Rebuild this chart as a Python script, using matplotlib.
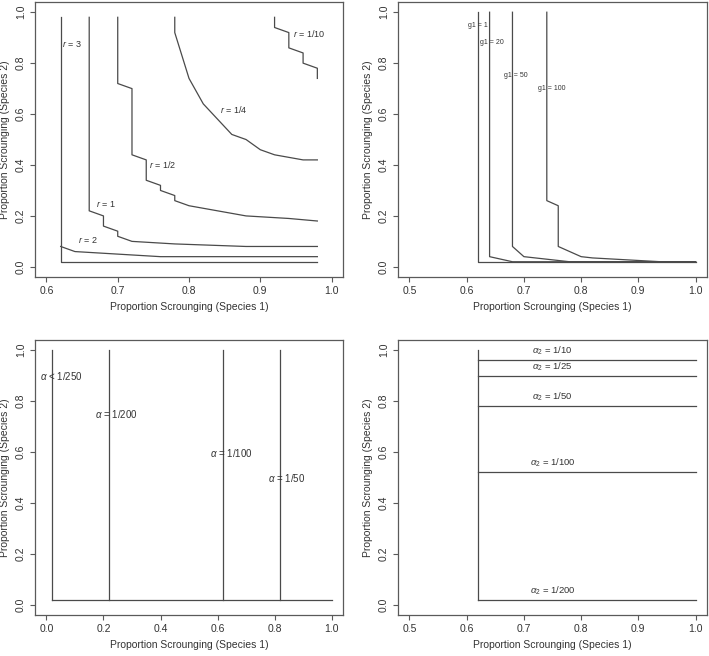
import matplotlib
matplotlib.use("Agg")
import matplotlib.pyplot as plt

plt.rcParams['font.family'] = ['Liberation Sans', 'DejaVu Sans']
plt.rcParams['mathtext.fontset'] = 'custom'
plt.rcParams['mathtext.rm'] = 'Liberation Sans'
plt.rcParams['mathtext.it'] = 'Liberation Sans:italic'

# panel 1 : isoclines for different r
r3_x = [0.62, 0.62, 0.98]
r3_y = [0.98, 0.02, 0.02]
r2_x = [0.62, 0.64, 0.70, 0.76, 0.98]
r2_y = [0.08, 0.06, 0.05, 0.04, 0.04]
r1_x = [0.66, 0.66, 0.68, 0.68, 0.70, 0.70, 0.72, 0.78, 0.88, 0.98]
r1_y = [0.98, 0.22, 0.20, 0.16, 0.14, 0.12, 0.10, 0.09, 0.08, 0.08]
rhalf_x = [0.70, 0.70, 0.72, 0.72, 0.74, 0.74, 0.76, 0.76, 0.78, 0.78, 0.80, 0.84, 0.88, 0.94, 0.98]
rhalf_y = [0.98, 0.72, 0.70, 0.44, 0.42, 0.34, 0.32, 0.30, 0.28, 0.26, 0.24, 0.22, 0.20, 0.19, 0.18]
rquart_x = [0.78, 0.78, 0.80, 0.82, 0.84, 0.86, 0.88, 0.90, 0.92, 0.96, 0.98]
rquart_y = [0.98, 0.92, 0.74, 0.64, 0.58, 0.52, 0.50, 0.46, 0.44, 0.42, 0.42]
rtenth_x = [0.92, 0.92, 0.94, 0.94, 0.96, 0.96, 0.98, 0.98]
rtenth_y = [0.98, 0.94, 0.92, 0.86, 0.84, 0.80, 0.78, 0.74]
r_labels = ['$r$ = 3', '$r$ = 2', '$r$ = 1', '$r$ = 1/2', '$r$ = 1/4', '$r$ = 1/10']
r_lab_x = [0.636, 0.658, 0.683, 0.763, 0.863, 0.969]
r_lab_y = [0.877, 0.104, 0.248, 0.40, 0.619, 0.917]

# panel 2 : isoclines for different g1
g1_x = [0.62, 0.62, 1.00]
g1_y = [1.00, 0.02, 0.02]
g20_x = [0.64, 0.64, 0.68, 1.00]
g20_y = [1.00, 0.04, 0.02, 0.02]
g50_x = [0.68, 0.68, 0.70, 0.72, 0.78, 1.00]
g50_y = [1.00, 0.08, 0.04, 0.035, 0.02, 0.02]
g100_x = [0.74, 0.74, 0.76, 0.76, 0.80, 0.82, 0.94, 1.00]
g100_y = [1.00, 0.26, 0.24, 0.08, 0.04, 0.035, 0.02, 0.02]
g_labels = ['g1 = 1', 'g1 = 20', 'g1 = 50', 'g1 = 100']
g_lab_x = [0.6195, 0.6445, 0.685, 0.748]
g_lab_y = [0.949, 0.88, 0.752, 0.70]

# panel 3 : alpha (species 1)
alpha_x = [0.02, 0.22, 0.62, 0.82]
alpha_labels = [r'$\alpha$ < 1/250', r'$\alpha$ = 1/200', r'$\alpha$ = 1/100', r'$\alpha$ = 1/50']
alpha_lab_x = [0.0525, 0.246, 0.648, 0.841]
alpha_lab_y = [0.898, 0.748, 0.598, 0.498]

# panel 4 : alpha2 (species 2)
alpha2_y = [0.96, 0.90, 0.78, 0.52, 0.02]
alpha2_labels = [r'$\alpha_2$ = 1/10', r'$\alpha_2$ = 1/25', r'$\alpha_2$ = 1/50',
                 r'$\alpha_2$ = 1/100', r'$\alpha_2$ = 1/200']

line_col = '#4a4a4a'
lw = 0.9


def setup(ax, x0, x1, ticks):
    pad = 0.04 * (x1 - x0)
    ax.set_xlim(x0 - pad, x1 + pad)
    ax.set_ylim(-0.04, 1.04)
    ax.set_xticks(ticks)
    ax.set_xticklabels(['%.1f' % t for t in ticks])
    ax.set_yticks([0, 0.2, 0.4, 0.6, 0.8, 1.0])
    ax.set_yticklabels(['0.0', '0.2', '0.4', '0.6', '0.8', '1.0'])
    for s in ax.spines.values():
        s.set_color('#5a5a5a')
        s.set_linewidth(0.9)
    ax.tick_params(length=3.6, width=0.8, color='#5a5a5a', labelsize=7.5,
                   labelcolor='#333333', pad=3)
    ax.tick_params(axis='y', labelrotation=90)
    for lab in ax.get_yticklabels():
        lab.set_va('center')
    ax.set_xlabel('Proportion Scrounging (Species 1)', fontsize=7.5, color='#333333', labelpad=4)
    ax.set_ylabel('Proportion Scrounging (Species 2)', fontsize=7.5, color='#333333', labelpad=4)


fig = plt.figure(figsize=(7.09, 6.56), dpi=100)
ax1 = fig.add_axes([0.0494, 0.5777, 0.4344, 0.4192])
ax2 = fig.add_axes([0.5614, 0.5777, 0.4358, 0.4192])
ax3 = fig.add_axes([0.0494, 0.0625, 0.4344, 0.4192])
ax4 = fig.add_axes([0.5614, 0.0625, 0.4358, 0.4192])

# panel 1
for xs, ys in [(r3_x, r3_y), (r2_x, r2_y), (r1_x, r1_y), (rhalf_x, rhalf_y),
               (rquart_x, rquart_y), (rtenth_x, rtenth_y)]:
    ax1.plot(xs, ys, color=line_col, lw=lw)
for t, x, y in zip(r_labels, r_lab_x, r_lab_y):
    ax1.text(x, y, t, fontsize=6.5, ha='center', va='center', color='#333333')
setup(ax1, 0.6, 1.0, [0.6, 0.7, 0.8, 0.9, 1.0])

# panel 2
for xs, ys in [(g1_x, g1_y), (g20_x, g20_y), (g50_x, g50_y), (g100_x, g100_y)]:
    ax2.plot(xs, ys, color=line_col, lw=lw)
for t, x, y in zip(g_labels, g_lab_x, g_lab_y):
    ax2.text(x, y, t, fontsize=5, ha='center', va='center', color='#333333')
setup(ax2, 0.5, 1.0, [0.5, 0.6, 0.7, 0.8, 0.9, 1.0])

# panel 3
for x in alpha_x:
    ax3.plot([x, x], [1.0, 0.02], color=line_col, lw=lw)
ax3.plot([0.02, 1.0], [0.02, 0.02], color=line_col, lw=lw)
for t, x, y in zip(alpha_labels, alpha_lab_x, alpha_lab_y):
    ax3.text(x, y, t, fontsize=7, ha='center', va='center', color='#333333')
setup(ax3, 0.0, 1.0, [0.0, 0.2, 0.4, 0.6, 0.8, 1.0])

# panel 4
ax4.plot([0.62, 0.62], [1.0, 0.02], color=line_col, lw=lw)
for y, t in zip(alpha2_y, alpha2_labels):
    ax4.plot([0.62, 1.0], [y, y], color=line_col, lw=lw)
    ax4.text(0.75, y + 0.012, t, fontsize=6.8, ha='center', va='bottom', color='#333333')
setup(ax4, 0.5, 1.0, [0.5, 0.6, 0.7, 0.8, 0.9, 1.0])

fig.savefig('out.png', dpi=100)
